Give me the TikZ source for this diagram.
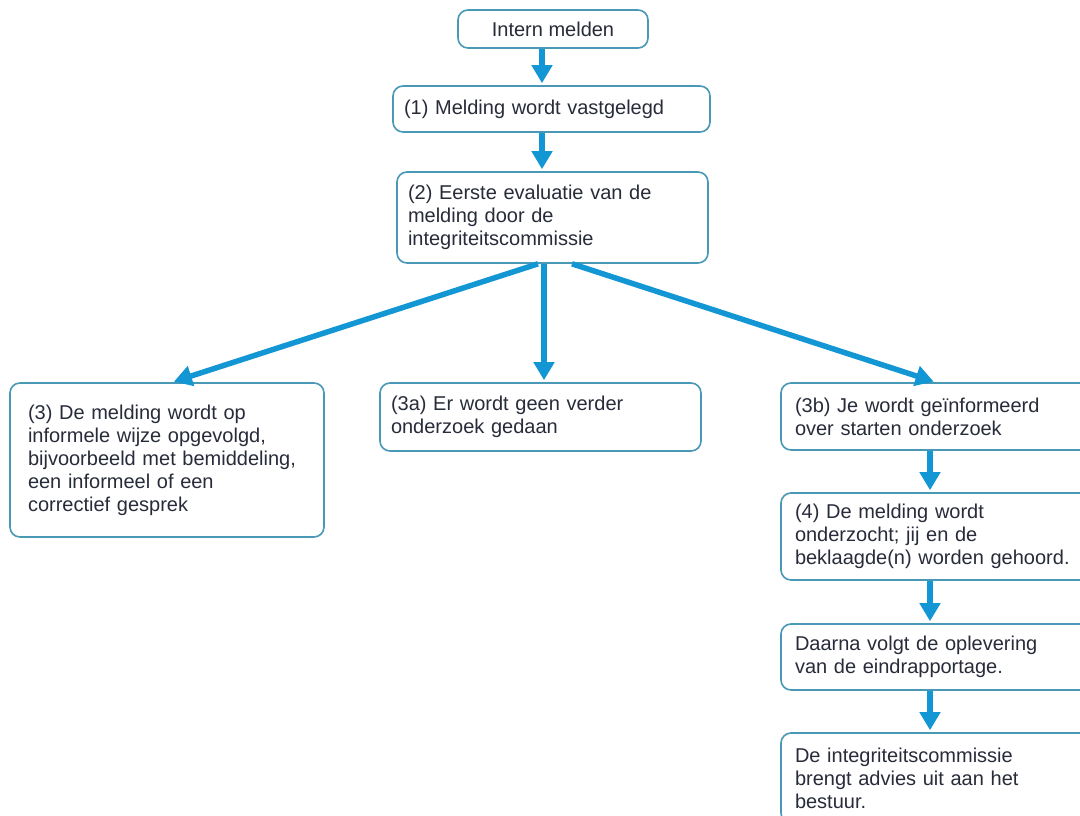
\documentclass[tikz,border=0pt]{standalone}
\usepackage{fontspec}
\setmainfont{Liberation Sans}
\usetikzlibrary{arrows.meta,calc}
\definecolor{boxline}{RGB}{72,152,182}
\definecolor{arrowc}{RGB}{18,150,212}
\definecolor{txt}{RGB}{40,44,58}
\tikzset{
  box/.style={draw=boxline, line width=1.6pt, rounded corners=10pt, fill=white,
    text=txt, align=left, inner xsep=11pt, inner ysep=0pt,
    font=\fontsize{20}{23}\selectfont},
  flow/.style={draw=arrowc, line width=5.5pt, -{Triangle[length=18pt,width=20pt]}, shorten >=2pt}
}
\begin{document}
\begin{tikzpicture}[x=1pt,y=-1pt]
\useasboundingbox (0,0) rectangle (1080,816);
\fill[white] (0,0) rectangle (1080,816);
\clip (0,0) rectangle (1080,816);
\node[box, minimum width=190pt, minimum height=38pt, align=center] (intern) at (553,29) {Intern melden};
\node[box, text width=295pt, minimum height=46pt] (n1) at (551.5,109) {(1) Melding wordt vastgelegd};
\node[box, text width=289pt, minimum height=91pt] (n2) at (552.5,217.5) {(2) Eerste evaluatie van de\\melding door de\\integriteitscommissie};
\node[box, inner xsep=18pt, text width=278pt, minimum height=154pt] (n3) at (167,460) {(3) De melding wordt op\\informele wijze opgevolgd,\\bijvoorbeeld met bemiddeling,\\een informeel of een\\correctief gesprek};
\node[box, text width=299pt, minimum height=68pt] (n3a) at (540.5,417) {(3a) Er wordt geen verder\\onderzoek gedaan};
\node[box, inner xsep=14pt, text width=281pt, minimum height=67pt] (n3b) at (935.5,416.5) {(3b) Je wordt geïnformeerd\\over starten onderzoek};
\node[box, inner xsep=14pt, text width=281pt, minimum height=87pt] (n4) at (935.5,536.5) {(4) De melding wordt\\onderzocht; jij en de\\beklaagde(n) worden gehoord.};
\node[box, inner xsep=14pt, text width=281pt, minimum height=66pt] (n5) at (935.5,657) {Daarna volgt de oplevering\\van de eindrapportage.};
\node[box, inner xsep=14pt, text width=281pt, minimum height=90pt] (n6) at (935.5,778) {De integriteitscommissie\\brengt advies uit aan het\\bestuur.};
\coordinate (s2l) at (n2.south -| 538,0);
\coordinate (s2c) at (n2.south -| 544,0);
\coordinate (s2r) at (n2.south -| 572,0);
\draw[flow] (intern.south -| 542,0) -- (n1.north -| 542,0);
\draw[flow] (n1.south -| 542,0) -- (n2.north -| 542,0);
\draw[flow] (s2l) -- ($(n3.north)+(5,0)$);
\draw[flow] (s2c) -- (n3a.north -| 544,0);
\draw[flow] (s2r) -- (n3b.north);
\draw[flow] (n3b.south -| 930,0) -- (n4.north -| 930,0);
\draw[flow] (n4.south -| 930,0) -- (n5.north -| 930,0);
\draw[flow] (n5.south -| 930,0) -- (n6.north -| 930,0);
\end{tikzpicture}
\end{document}
